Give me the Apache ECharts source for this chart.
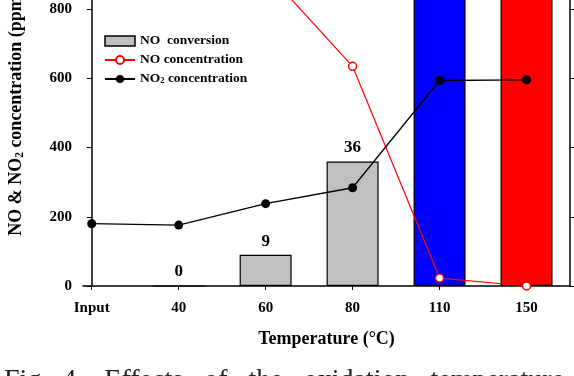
<!DOCTYPE html>
<html>
<head>
<meta charset="utf-8">
<script src="https://cdn.jsdelivr.net/npm/echarts@6/dist/echarts.min.js"></script>
<style>
html,body{margin:0;padding:0;background:#fff;}
#main{width:574px;height:376px;}
</style>
</head>
<body>
<div id="main"></div>
<script>
// ---- data ----
const categories = ['Input', '40', '60', '80', '110', '150'];
const noConversion = [null, 0, 9, 36, 100, 100];          // % (right axis)
const noConcentration = [990, 990, 910, 635, 23, 0];      // ppm
const no2Concentration = [180, 176, 238, 284, 594, 596];  // ppm
const leftAxisTicks = [0, 200, 400, 600, 800, 1000];
const rightAxisTicks = [0, 20, 40, 60, 80, 100];
const captionText = 'Fig.  4.   Effects   of   the   oxidation   temperature   on';

// ---- styles (kept separate from data) ----
const barColors = ['#c0c0c0', '#c0c0c0', '#c0c0c0', '#c0c0c0', '#0000ff', '#ff0000'];
const FONT = '"Liberation Serif", "Times New Roman", serif';

const idx = categories.map((c, i) => i);

const barData = [];
noConversion.forEach((v, i) => {
  if (v !== null) {
    barData.push({
      value: [i, v],
      itemStyle: { color: barColors[i] },
      label: { show: v < 100 }
    });
  }
});

const chart = echarts.init(document.getElementById('main'), null, { renderer: 'canvas' });

chart.setOption({
  animation: false,
  backgroundColor: '#ffffff',
  grid: {
    left: 83, right: 4, top: -60, bottom: 90,
    containLabel: false,
    outerBoundsMode: 'none'
  },
  legend: {
    orient: 'vertical',
    left: 104,
    top: 34,
    itemWidth: 30,
    itemHeight: 10,
    itemGap: 5,
    padding: 0,
    data: [
      { name: 'NO  conversion', icon: 'rect', itemStyle: { color: '#c0c0c0', borderColor: '#000', borderWidth: 1.5 } },
      { name: 'NO concentration' },
      { name: 'NO2 concentration' }
    ],
    formatter: function (name) {
      if (name === 'NO2 concentration') return '{b|NO}{s|2}{b| concentration}';
      return '{b|' + name + '}';
    },
    textStyle: {
      fontFamily: FONT, fontWeight: 'bold', fontSize: 13.5, color: '#000',
      rich: {
        b: { fontFamily: FONT, fontWeight: 'bold', fontSize: 13.5, color: '#000', lineHeight: 12 },
        s: { fontFamily: FONT, fontWeight: 'bold', fontSize: 8.5, color: '#000', lineHeight: 8, verticalAlign: 'bottom' }
      }
    }
  },
  xAxis: {
    type: 'value',
    min: -0.1,
    max: 5.5,
    name: 'Temperature (°C)',
    nameLocation: 'middle',
    nameGap: 44,
    nameTextStyle: { fontFamily: FONT, fontWeight: 'bold', fontSize: 18, color: '#000' },
    splitLine: { show: false },
    axisLine: { show: true, onZero: false, lineStyle: { color: '#000', width: 1.5 } },
    axisTick: { show: true, inside: false, length: 4, customValues: idx, lineStyle: { color: '#000', width: 1 } },
    axisLabel: {
      customValues: idx,
      margin: 15,
      formatter: function (v) { return categories[Math.round(v)]; },
      fontFamily: FONT, fontWeight: 'bold', fontSize: 15, color: '#000'
    }
  },
  yAxis: [
    {
      type: 'value',
      min: leftAxisTicks[0],
      max: leftAxisTicks[leftAxisTicks.length - 1],
      interval: leftAxisTicks[1] - leftAxisTicks[0],
      position: 'left',
      name: '{a|NO & NO}{s|2}{a| concentration (ppm)}',
      nameLocation: 'middle',
      nameGap: 57,
      nameTextStyle: {
        fontFamily: FONT, fontWeight: 'bold', fontSize: 18, color: '#000',
        rich: {
          a: { fontFamily: FONT, fontWeight: 'bold', fontSize: 18, color: '#000', lineHeight: 20 },
          s: { fontFamily: FONT, fontWeight: 'bold', fontSize: 11.5, color: '#000', lineHeight: 11, verticalAlign: 'bottom' }
        }
      },
      splitLine: { show: false },
      axisLine: { show: true, lineStyle: { color: '#000', width: 1.5 } },
      axisTick: { show: true, inside: false, length: 5, lineStyle: { color: '#000', width: 1 } },
      axisLabel: { margin: 11, fontFamily: FONT, fontWeight: 'bold', fontSize: 15, color: '#000' }
    },
    {
      type: 'value',
      min: rightAxisTicks[0],
      max: rightAxisTicks[rightAxisTicks.length - 1],
      interval: rightAxisTicks[1] - rightAxisTicks[0],
      position: 'right',
      splitLine: { show: false },
      axisLine: { show: true, lineStyle: { color: '#000', width: 1.5 } },
      axisTick: { show: true, inside: false, length: 5, lineStyle: { color: '#000', width: 1 } },
      axisLabel: { margin: 10, fontFamily: FONT, fontWeight: 'bold', fontSize: 15, color: '#000' }
    }
  ],
  series: [
    {
      name: 'NO  conversion',
      type: 'bar',
      xAxisIndex: 0,
      yAxisIndex: 1,
      barWidth: 52,
      data: barData,
      itemStyle: { color: '#c0c0c0', borderColor: '#000', borderWidth: 1.2 },
      label: {
        show: true,
        position: 'top',
        distance: 5,
        formatter: function (p) { return p.value[1]; },
        fontFamily: FONT, fontWeight: 'bold', fontSize: 17, color: '#000'
      },
      z: 1
    },
    {
      name: 'NO concentration',
      type: 'line',
      yAxisIndex: 0,
      data: noConcentration.map((v, i) => [i, v]),
      symbol: 'circle',
      symbolSize: 8,
      lineStyle: { color: '#ff0000', width: 1.2 },
      itemStyle: { color: '#ffffff', borderColor: '#ff0000', borderWidth: 1.5 },
      z: 3
    },
    {
      name: 'NO2 concentration',
      type: 'line',
      yAxisIndex: 0,
      data: no2Concentration.map((v, i) => [i, v]),
      symbol: 'circle',
      symbolSize: 9,
      lineStyle: { color: '#000000', width: 1.3 },
      itemStyle: { color: '#000000', borderColor: '#000000', borderWidth: 0 },
      z: 4
    }
  ],
  graphic: [
    {
      type: 'text',
      left: 4,
      top: 367,
      silent: true,
      style: {
        text: captionText,
        fontFamily: FONT,
        fontSize: 28,
        fill: '#222'
      }
    }
  ]
});
</script>
</body>
</html>
